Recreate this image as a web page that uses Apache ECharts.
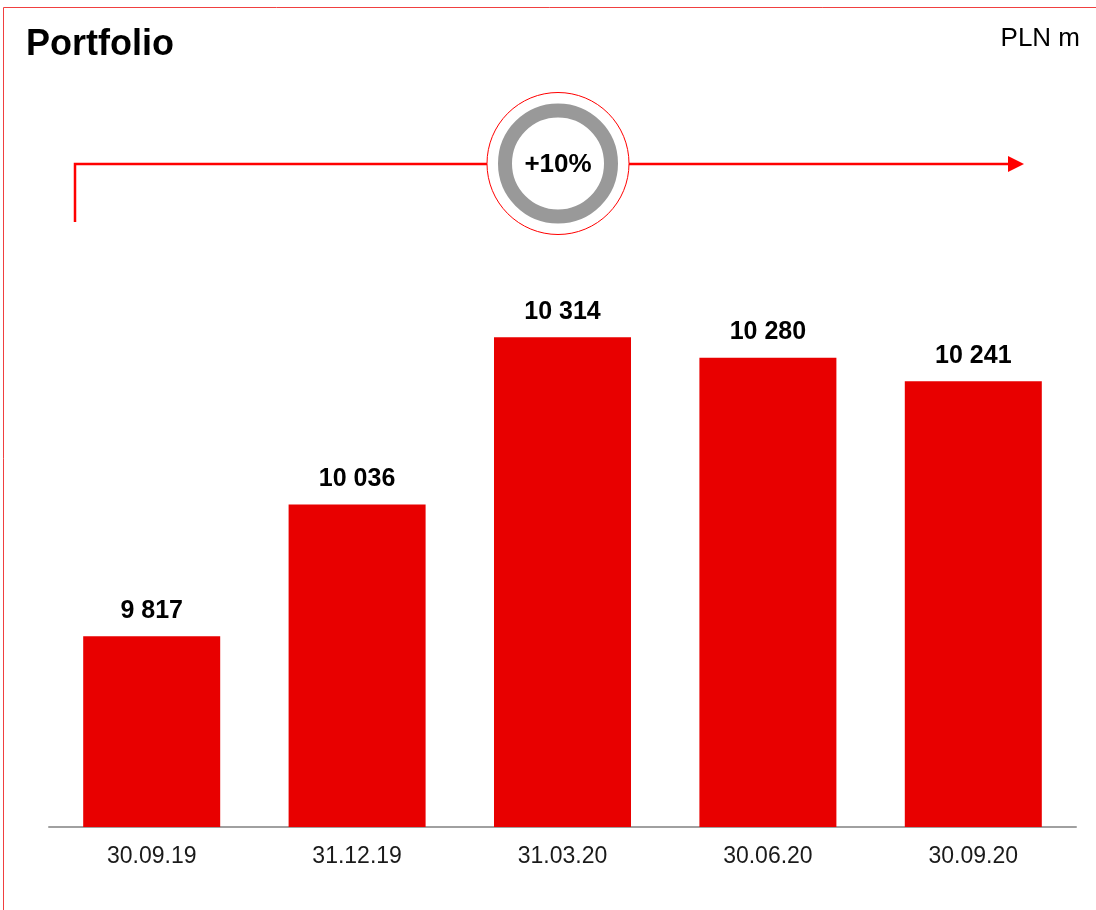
<!DOCTYPE html>
<html>
<head>
<meta charset="utf-8">
<title>Portfolio</title>
<script src="https://cdn.jsdelivr.net/npm/echarts@6/dist/echarts.min.js"></script>
<style>
  html, body { margin: 0; padding: 0; background: #ffffff; }
  #chart { width: 1096px; height: 910px; }
</style>
</head>
<body>
<div id="chart"></div>
<script>
// Reporting dates and portfolio value (PLN m)
const categories = ['30.09.19', '31.12.19', '31.03.20', '30.06.20', '30.09.20'];
const portfolio = [9817, 10036, 10314, 10280, 10241];
const growthLabel = '+10%';

const FONT = "'Liberation Sans', Arial, sans-serif";
const RED = '#ff0000';

// Thousands separated by a space, e.g. 10 314
function fmt(v) {
  return String(v).replace(/\B(?=(\d{3})+(?!\d))/g, ' ');
}

const chart = echarts.init(document.getElementById('chart'), null, { renderer: 'canvas' });

chart.setOption({
  animation: false,
  backgroundColor: '#ffffff',
  title: [
    {
      text: 'Portfolio',
      left: 21, top: 22,
      textStyle: { fontFamily: FONT, fontSize: 36, fontWeight: 'bold', color: '#000' }
    },
    {
      text: 'PLN m',
      right: 11, top: 21,
      textStyle: { fontFamily: FONT, fontSize: 26, fontWeight: 'normal', color: '#000' }
    }
  ],
  grid: { left: 49, right: 20, top: 105, bottom: 83, containLabel: false, outerBoundsMode: 'none' },
  xAxis: {
    type: 'category',
    data: categories,
    axisTick: { show: false },
    axisLine: { show: true, lineStyle: { color: '#a0a0a0', width: 2 } },
    axisLabel: { fontFamily: FONT, fontSize: 23, color: '#1a1a1a', margin: 18 }
  },
  yAxis: {
    type: 'value',
    min: 9500, max: 10700,
    show: false,
    splitLine: { show: false }
  },
  series: [{
    type: 'bar',
    data: portfolio,
    barWidth: '66.7%',
    itemStyle: { color: '#e80000' },
    label: {
      show: true,
      position: 'top',
      distance: 13,
      formatter: p => fmt(p.value),
      fontFamily: FONT, fontSize: 25, fontWeight: 'bold', color: '#000'
    }
  }],
  graphic: [
    // frame edges
    { type: 'line', shape: { x1: 3.5, y1: 7.5, x2: 1096, y2: 7.5 }, style: { stroke: '#f04040', lineWidth: 1 } },
    { type: 'line', shape: { x1: 3.5, y1: 7.5, x2: 3.5, y2: 910 }, style: { stroke: '#f04040', lineWidth: 1 } },
    // growth arrow
    { type: 'polyline', shape: { points: [[75, 222], [75, 164], [487, 164]] }, style: { stroke: RED, lineWidth: 2.5, fill: null } },
    { type: 'line', shape: { x1: 629, y1: 164, x2: 1010, y2: 164 }, style: { stroke: RED, lineWidth: 2.5 } },
    { type: 'polygon', shape: { points: [[1008, 156], [1024, 164], [1008, 172]] }, style: { fill: RED } },
    // badge
    { type: 'circle', shape: { cx: 558, cy: 163.5, r: 71 }, style: { fill: '#ffffff', stroke: RED, lineWidth: 1 } },
    { type: 'circle', shape: { cx: 558, cy: 163.5, r: 53 }, style: { fill: '#ffffff', stroke: '#999999', lineWidth: 14 } },
    {
      type: 'text', x: 558, y: 165,
      style: { text: growthLabel, align: 'center', verticalAlign: 'middle', font: 'bold 26px ' + FONT, fill: '#000' }
    }
  ]
});
</script>
</body>
</html>
